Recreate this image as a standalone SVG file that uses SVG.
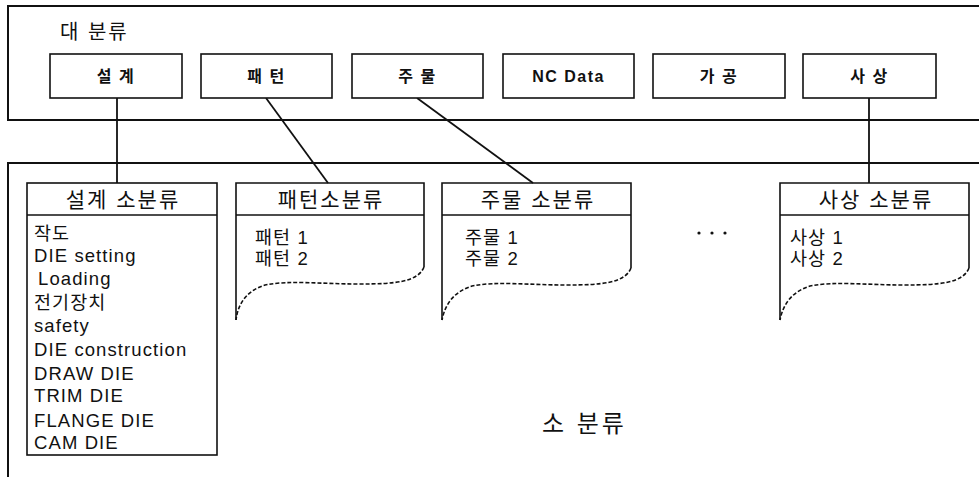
<svg xmlns="http://www.w3.org/2000/svg" width="979" height="477" viewBox="0 0 979 477">
<style>
  .frame{fill:none;stroke:#111;stroke-width:2}
  .box{fill:#fff;stroke:#111;stroke-width:1.6}
  .line{fill:none;stroke:#111;stroke-width:1.8}
  .dash{fill:none;stroke:#111;stroke-width:1.6;stroke-dasharray:4 2}
  text{font-family:"Liberation Sans","Noto Sans CJK KR",sans-serif;fill:#111}
  .top{font-size:16px;font-weight:bold;text-anchor:middle;letter-spacing:1.5px}
  .hdr{font-size:21px;text-anchor:middle;letter-spacing:2px}
  .item{font-size:18.5px;letter-spacing:1.1px}
  .big{font-size:20px;letter-spacing:2px}
</style>
<g id="major-frame">
  <path class="frame" d="M979,6 H8 V120 H979"/>
  <text class="big" x="60" y="39" xml:space="preserve">대 분류</text>
</g>
<g id="minor-frame">
  <path class="frame" d="M979,163 H8 V477"/>
  <text x="542" y="432" style="font-size:24px;letter-spacing:3px" xml:space="preserve">소 분류</text>
</g>
<g id="connectors">
  <line class="line" x1="117" y1="98" x2="117" y2="183"/>
  <line class="line" x1="266" y1="98" x2="328" y2="183"/>
  <line class="line" x1="417" y1="98" x2="533" y2="183"/>
  <line class="line" x1="869" y1="98" x2="869" y2="183"/>
</g>
<g id="n-design"><rect class="box" x="50" y="54" width="132" height="44"/><text class="top" x="116" y="82" xml:space="preserve">설 계</text></g>
<g id="n-pattern"><rect class="box" x="201" y="54" width="131" height="44"/><text class="top" x="266.5" y="82" xml:space="preserve">패 턴</text></g>
<g id="n-casting"><rect class="box" x="352" y="54" width="131" height="44"/><text class="top" x="417.5" y="82" xml:space="preserve">주 물</text></g>
<g id="n-ncdata"><rect class="box" x="503" y="54" width="131" height="44"/><text class="top" x="568.5" y="82">NC Data</text></g>
<g id="n-machining"><rect class="box" x="653" y="54" width="132" height="44"/><text class="top" x="719" y="82" xml:space="preserve">가 공</text></g>
<g id="n-finishing"><rect class="box" x="803" y="54" width="133" height="44"/><text class="top" x="869.5" y="82" xml:space="preserve">사 상</text></g>

<g id="s-design">
  <rect class="box" x="27" y="183" width="190" height="272"/>
  <line class="line" x1="27" y1="215" x2="217" y2="215" style="stroke-width:1.4"/>
  <text class="hdr" x="123" y="207" xml:space="preserve">설계 소분류</text>
  <text class="item" x="34" y="240">작도</text>
  <text class="item" x="34" y="262">DIE setting</text>
  <text class="item" x="38" y="285">Loading</text>
  <text class="item" x="34" y="309">전기장치</text>
  <text class="item" x="34" y="332">safety</text>
  <text class="item" x="34" y="356">DIE construction</text>
  <text class="item" x="34" y="380">DRAW DIE</text>
  <text class="item" x="34" y="402">TRIM DIE</text>
  <text class="item" x="34" y="427">FLANGE DIE</text>
  <text class="item" x="34" y="449">CAM DIE</text>
</g>
<g id="s-pattern">
  <path class="line" style="stroke-width:1.6" d="M236,320 V183 H424 V267"/>
  <line class="line" x1="236" y1="215" x2="424" y2="215" style="stroke-width:1.4"/>
  <path class="dash" d="M424,267 C418,282 395,284 360,284 C320,284 290,280 265,285 C246,291 238,304 236,320"/>
  <text class="hdr" x="331" y="207">패턴소분류</text>
  <text class="item" x="255" y="244" xml:space="preserve">패턴 1</text>
  <text class="item" x="255" y="265" xml:space="preserve">패턴 2</text>
</g>
<g id="s-casting">
  <path class="line" style="stroke-width:1.6" d="M442,320 V183 H631 V268"/>
  <line class="line" x1="442" y1="215" x2="631" y2="215" style="stroke-width:1.4"/>
  <path class="dash" d="M631,268 C625,283 602,285 567,285 C527,285 497,281 472,286 C453,292 445,305 442,320"/>
  <text class="hdr" x="538" y="207" xml:space="preserve">주물 소분류</text>
  <text class="item" x="465" y="244" xml:space="preserve">주물 1</text>
  <text class="item" x="465" y="265" xml:space="preserve">주물 2</text>
</g>
<g id="ellipsis">
  <circle cx="699" cy="233" r="1.6" fill="#111"/>
  <circle cx="712" cy="233" r="1.6" fill="#111"/>
  <circle cx="725" cy="233" r="1.6" fill="#111"/>
</g>
<g id="s-finishing">
  <path class="line" style="stroke-width:1.6" d="M780,320 V183 H969 V268"/>
  <line class="line" x1="780" y1="215" x2="969" y2="215" style="stroke-width:1.4"/>
  <path class="dash" d="M969,268 C963,283 940,285 905,285 C865,285 835,281 810,286 C791,292 783,305 780,320"/>
  <text class="hdr" x="876" y="207" xml:space="preserve">사상 소분류</text>
  <text class="item" x="790" y="244" xml:space="preserve">사상 1</text>
  <text class="item" x="790" y="265" xml:space="preserve">사상 2</text>
</g>
</svg>
